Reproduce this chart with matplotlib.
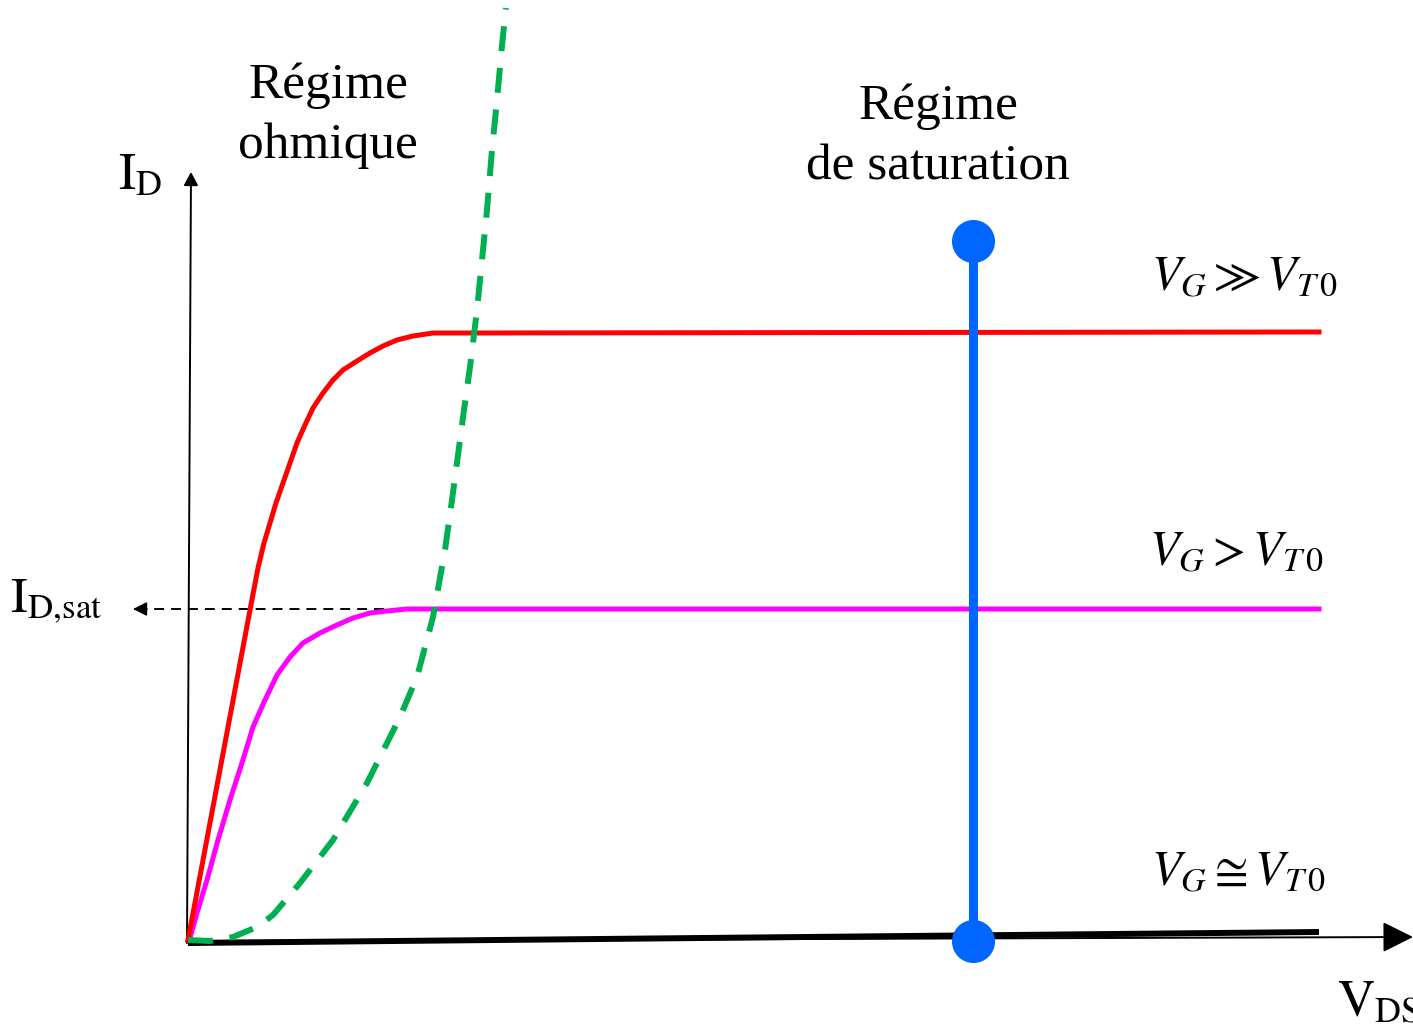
import matplotlib
matplotlib.use("Agg")
import matplotlib.pyplot as plt
import numpy as np

# output characteristics I_D(V_DS), drawing units (origin = axes origin)
vds_strong = [0, 62, 70, 76, 82, 88, 95, 102, 109, 117, 125, 135, 145, 155, 169,
              182, 195, 209, 225, 245, 279, 1131]
id_strong = [3, 333, 375, 400, 420, 440, 460, 480, 500, 518, 535, 550, 563, 573, 582,
             590, 597, 603, 607, 610, 610, 611]

vds_above = [2, 9, 19, 30, 42, 54, 65, 77, 89, 102, 115, 132, 149, 165, 182,
             199, 219, 1131]
id_above = [5, 30, 63, 103, 143, 180, 216, 243, 268, 286, 300, 310, 318, 325, 330,
            332, 334, 334]

vds_thresh = [0, 1131]
id_thresh = [0, 11]

# V_DS,sat boundary between the two regimes
vds_limit = [0, 22, 45, 69, 85, 112, 145, 179, 212, 229, 245, 257, 264, 270,
             276, 282, 289, 294, 299, 304, 309, 314, 318]
id_limit = [3, 2, 6, 16, 28, 60, 103, 160, 226, 266, 326, 393, 443, 488,
            533, 576, 633, 683, 733, 793, 843, 898, 935]

# fixed V_DS operating point, spans the three curves
vds_op = [785, 785]
id_op = [2, 702]

# I_D,sat level and arrow end
id_sat = 334
vds_sat_end = 602
vds_sat_arrow = -55

# axes extents
vds_axis = [-2, 1225]
id_axis = [2, 6]
vaxis_x = [-1, 3]
vaxis_y = [0, 771]

fig = plt.figure(figsize=(14.13, 10.33), dpi=100)
ax = fig.add_axes([0, 0, 1, 1])
ax.set_xlim(-188, 1225)
ax.set_ylim(-90, 943)
ax.axis('off')

# axes with arrow heads
ax.annotate('', xy=(vds_axis[1], id_axis[1]), xytext=(vds_axis[0], id_axis[0]),
            arrowprops=dict(arrowstyle='-|>,head_length=19,head_width=9.5', lw=1.4,
                            color='black', mutation_scale=1, shrinkA=0, shrinkB=0))
ax.annotate('', xy=(vaxis_x[1], vaxis_y[1]), xytext=(vaxis_x[0], vaxis_y[0]),
            arrowprops=dict(arrowstyle='-|>,head_length=8,head_width=4.3', lw=1.4,
                            color='black', mutation_scale=1, shrinkA=0, shrinkB=0))

# I_D,sat dashed reference
ax.plot([vds_sat_end, vds_sat_arrow + 8], [id_sat, id_sat], color='black', lw=1.4,
        dashes=(5.1, 3.6), zorder=2)
ax.annotate('', xy=(vds_sat_arrow, id_sat), xytext=(vds_sat_arrow + 14, id_sat),
            arrowprops=dict(arrowstyle='-|>,head_length=8.6,head_width=4.3', lw=1.0,
                            color='black', mutation_scale=1, shrinkA=0, shrinkB=0))

ax.plot(vds_thresh, id_thresh, color='black', lw=4.3, solid_capstyle='butt', zorder=2)
ax.plot(vds_above, id_above, color='#FF00FF', lw=3.6, solid_joinstyle='round', zorder=3)
ax.plot(vds_strong, id_strong, color='#FF0000', lw=3.6, solid_joinstyle='round', zorder=3)
ax.plot(vds_limit, id_limit, color='#00B050', lw=4.3, dashes=(4.2, 2.8),
        dash_capstyle='butt', zorder=4)
ax.plot(vds_op, id_op, color='#0066FF', lw=6.5, marker='o', markersize=31,
        markeredgewidth=0, zorder=5)

serif = 'Liberation Serif'
ax.text(140, 845, 'Régime', family=serif, fontsize=37, ha='center', va='baseline')
ax.text(140, 785, 'ohmique', family=serif, fontsize=37, ha='center', va='baseline')
ax.text(750, 824, 'Régime', family=serif, fontsize=37, ha='center', va='baseline')
ax.text(750, 763, 'de saturation', family=serif, fontsize=37, ha='center', va='baseline')

ax.text(-70, 754, r'$\mathrm{I_D}$', fontsize=37, math_fontfamily='stix', va='baseline')
ax.text(-178, 331, r'$\mathrm{I_{D{,}sat}}$', fontsize=36, math_fontfamily='stix',
        va='baseline')
ax.text(1149, -74, r'$\mathrm{V_{DS}}$', fontsize=37, math_fontfamily='stix', va='baseline')

ax.text(963, 653, r'$V_G \gg V_{T\,0}$', fontsize=35, math_fontfamily='stix', va='baseline')
ax.text(961, 378, r'$V_G > V_{T\,0}$', fontsize=35, math_fontfamily='stix', va='baseline')
ax.text(963, 58, r'$V_G \cong V_{T\,0}$', fontsize=35, math_fontfamily='stix', va='baseline')

fig.savefig('out.png', dpi=100)
